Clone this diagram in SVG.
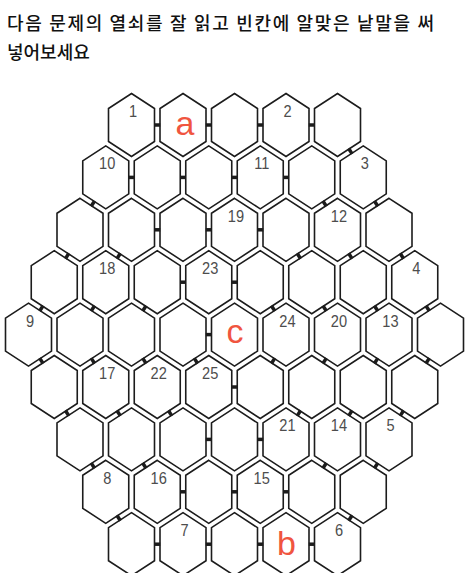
<svg xmlns="http://www.w3.org/2000/svg" width="465" height="573" viewBox="0 0 465 573">
<style>
.hx{fill:#fff;stroke:#1c1c1c;stroke-width:1.6;stroke-linejoin:miter}
.bar{stroke:#1c1c1c;stroke-width:3.5;fill:none}
.n{font-family:"Liberation Sans",Arial,sans-serif;font-size:17px;fill:#4d4d4d;text-anchor:middle}
.l{font-family:"Liberation Sans",Arial,sans-serif;font-size:34px;fill:#f0553f;text-anchor:middle}
.t{font-family:"Noto Sans CJK KR","Noto Sans",sans-serif;font-size:18px;font-weight:500;fill:#111}
</style>
<defs>
<path id="hx" d="M0,-31.5L23,-16.5L23,16.5L0,31.5L-23,16.5L-23,-16.5Z"/>
<path id="bh" d="M-3,0H3"/>
<path id="bdr" d="M-1.75,-2.68L1.75,2.68"/>
<path id="bdl" d="M1.75,-2.68L-1.75,2.68"/>
</defs>
<rect width="465" height="573" fill="#fff"/>
<g id="title">
<text class="t" x="7" y="30" textLength="427" lengthAdjust="spacing">다음 문제의 열쇠를 잘 읽고 빈칸에 알맞은 낱말을 써</text>
<text class="t" x="7" y="59">넣어보세요</text>
</g>
<g id="hexes">
<!-- row 1 -->
<g id="h1-1"><use href="#hx" class="hx" x="131.5" y="125"/><text class="n" transform="translate(133,117) scale(0.86,1)">1</text></g>
<g id="h1-2"><use href="#hx" class="hx" x="183" y="125"/><text class="l" x="185" y="135">a</text></g>
<g id="h1-3"><use href="#hx" class="hx" x="234.5" y="125"/></g>
<g id="h1-4"><use href="#hx" class="hx" x="286" y="125"/><text class="n" transform="translate(287.5,117) scale(0.86,1)">2</text></g>
<g id="h1-5"><use href="#hx" class="hx" x="337.5" y="125"/></g>
<!-- row 2 -->
<g id="h2-1"><use href="#hx" class="hx" x="105.75" y="177.4"/><text class="n" transform="translate(107.25,169.4) scale(0.86,1)">10</text></g>
<g id="h2-2"><use href="#hx" class="hx" x="157.25" y="177.4"/></g>
<g id="h2-3"><use href="#hx" class="hx" x="208.75" y="177.4"/></g>
<g id="h2-4"><use href="#hx" class="hx" x="260.25" y="177.4"/><text class="n" transform="translate(261.75,169.4) scale(0.86,1)">11</text></g>
<g id="h2-5"><use href="#hx" class="hx" x="311.75" y="177.4"/></g>
<g id="h2-6"><use href="#hx" class="hx" x="363.25" y="177.4"/><text class="n" transform="translate(364.75,169.4) scale(0.86,1)">3</text></g>
<!-- row 3 -->
<g id="h3-1"><use href="#hx" class="hx" x="80" y="229.8"/></g>
<g id="h3-2"><use href="#hx" class="hx" x="131.5" y="229.8"/></g>
<g id="h3-3"><use href="#hx" class="hx" x="183" y="229.8"/></g>
<g id="h3-4"><use href="#hx" class="hx" x="234.5" y="229.8"/><text class="n" transform="translate(236,221.8) scale(0.86,1)">19</text></g>
<g id="h3-5"><use href="#hx" class="hx" x="286" y="229.8"/></g>
<g id="h3-6"><use href="#hx" class="hx" x="337.5" y="229.8"/><text class="n" transform="translate(339,221.8) scale(0.86,1)">12</text></g>
<g id="h3-7"><use href="#hx" class="hx" x="389" y="229.8"/></g>
<!-- row 4 -->
<g id="h4-1"><use href="#hx" class="hx" x="54.25" y="282.2"/></g>
<g id="h4-2"><use href="#hx" class="hx" x="105.75" y="282.2"/><text class="n" transform="translate(107.25,274.2) scale(0.86,1)">18</text></g>
<g id="h4-3"><use href="#hx" class="hx" x="157.25" y="282.2"/></g>
<g id="h4-4"><use href="#hx" class="hx" x="208.75" y="282.2"/><text class="n" transform="translate(210.25,274.2) scale(0.86,1)">23</text></g>
<g id="h4-5"><use href="#hx" class="hx" x="260.25" y="282.2"/></g>
<g id="h4-6"><use href="#hx" class="hx" x="311.75" y="282.2"/></g>
<g id="h4-7"><use href="#hx" class="hx" x="363.25" y="282.2"/></g>
<g id="h4-8"><use href="#hx" class="hx" x="414.75" y="282.2"/><text class="n" transform="translate(416.25,274.2) scale(0.86,1)">4</text></g>
<!-- row 5 -->
<g id="h5-1"><use href="#hx" class="hx" x="28.5" y="334.6"/><text class="n" transform="translate(30,326.6) scale(0.86,1)">9</text></g>
<g id="h5-2"><use href="#hx" class="hx" x="80" y="334.6"/></g>
<g id="h5-3"><use href="#hx" class="hx" x="131.5" y="334.6"/></g>
<g id="h5-4"><use href="#hx" class="hx" x="183" y="334.6"/></g>
<g id="h5-5"><use href="#hx" class="hx" x="234.5" y="334.6"/><text class="l" x="235" y="343">c</text></g>
<g id="h5-6"><use href="#hx" class="hx" x="286" y="334.6"/><text class="n" transform="translate(287.5,326.6) scale(0.86,1)">24</text></g>
<g id="h5-7"><use href="#hx" class="hx" x="337.5" y="334.6"/><text class="n" transform="translate(339,326.6) scale(0.86,1)">20</text></g>
<g id="h5-8"><use href="#hx" class="hx" x="389" y="334.6"/><text class="n" transform="translate(390.5,326.6) scale(0.86,1)">13</text></g>
<g id="h5-9"><use href="#hx" class="hx" x="440.5" y="334.6"/></g>
<!-- row 6 -->
<g id="h6-1"><use href="#hx" class="hx" x="54.25" y="387"/></g>
<g id="h6-2"><use href="#hx" class="hx" x="105.75" y="387"/><text class="n" transform="translate(107.25,379) scale(0.86,1)">17</text></g>
<g id="h6-3"><use href="#hx" class="hx" x="157.25" y="387"/><text class="n" transform="translate(158.75,379) scale(0.86,1)">22</text></g>
<g id="h6-4"><use href="#hx" class="hx" x="208.75" y="387"/><text class="n" transform="translate(210.25,379) scale(0.86,1)">25</text></g>
<g id="h6-5"><use href="#hx" class="hx" x="260.25" y="387"/></g>
<g id="h6-6"><use href="#hx" class="hx" x="311.75" y="387"/></g>
<g id="h6-7"><use href="#hx" class="hx" x="363.25" y="387"/></g>
<g id="h6-8"><use href="#hx" class="hx" x="414.75" y="387"/></g>
<!-- row 7 -->
<g id="h7-1"><use href="#hx" class="hx" x="80" y="439.4"/></g>
<g id="h7-2"><use href="#hx" class="hx" x="131.5" y="439.4"/></g>
<g id="h7-3"><use href="#hx" class="hx" x="183" y="439.4"/></g>
<g id="h7-4"><use href="#hx" class="hx" x="234.5" y="439.4"/></g>
<g id="h7-5"><use href="#hx" class="hx" x="286" y="439.4"/><text class="n" transform="translate(287.5,431.4) scale(0.86,1)">21</text></g>
<g id="h7-6"><use href="#hx" class="hx" x="337.5" y="439.4"/><text class="n" transform="translate(339,431.4) scale(0.86,1)">14</text></g>
<g id="h7-7"><use href="#hx" class="hx" x="389" y="439.4"/><text class="n" transform="translate(390.5,431.4) scale(0.86,1)">5</text></g>
<!-- row 8 -->
<g id="h8-1"><use href="#hx" class="hx" x="105.75" y="491.8"/><text class="n" transform="translate(107.25,483.8) scale(0.86,1)">8</text></g>
<g id="h8-2"><use href="#hx" class="hx" x="157.25" y="491.8"/><text class="n" transform="translate(158.75,483.8) scale(0.86,1)">16</text></g>
<g id="h8-3"><use href="#hx" class="hx" x="208.75" y="491.8"/></g>
<g id="h8-4"><use href="#hx" class="hx" x="260.25" y="491.8"/><text class="n" transform="translate(261.75,483.8) scale(0.86,1)">15</text></g>
<g id="h8-5"><use href="#hx" class="hx" x="311.75" y="491.8"/></g>
<g id="h8-6"><use href="#hx" class="hx" x="363.25" y="491.8"/></g>
<!-- row 9 -->
<g id="h9-1"><use href="#hx" class="hx" x="131.5" y="544.2"/></g>
<g id="h9-2"><use href="#hx" class="hx" x="183" y="544.2"/><text class="n" transform="translate(184.5,536.2) scale(0.86,1)">7</text></g>
<g id="h9-3"><use href="#hx" class="hx" x="234.5" y="544.2"/></g>
<g id="h9-4"><use href="#hx" class="hx" x="286" y="544.2"/><text class="l" x="286.5" y="555">b</text></g>
<g id="h9-5"><use href="#hx" class="hx" x="337.5" y="544.2"/><text class="n" transform="translate(339,536.2) scale(0.86,1)">6</text></g>
</g>
<g id="connectors" class="bar">
<use href="#bh" x="157.25" y="125"/><use href="#bh" x="208.75" y="125"/><use href="#bh" x="260.25" y="125"/><use href="#bh" x="311.75" y="125"/>
<use href="#bh" x="131.5" y="177.4"/><use href="#bh" x="183" y="177.4"/><use href="#bh" x="234.5" y="177.4"/><use href="#bh" x="286" y="177.4"/>
<use href="#bh" x="157.25" y="229.8"/><use href="#bh" x="208.75" y="229.8"/><use href="#bh" x="260.25" y="229.8"/>
<use href="#bh" x="183" y="282.2"/><use href="#bh" x="234.5" y="282.2"/>
<use href="#bh" x="208.75" y="334.6"/>
<use href="#bh" x="234.5" y="387"/>
<use href="#bh" x="208.75" y="439.4"/><use href="#bh" x="260.25" y="439.4"/>
<use href="#bh" x="183" y="491.8"/><use href="#bh" x="234.5" y="491.8"/><use href="#bh" x="286" y="491.8"/>
<use href="#bh" x="157.25" y="544.2"/><use href="#bh" x="208.75" y="544.2"/><use href="#bh" x="260.25" y="544.2"/><use href="#bh" x="311.75" y="544.2"/>
<use href="#bdr" x="350.375" y="151.2"/>
<use href="#bdl" x="92.875" y="203.6"/><use href="#bdr" x="324.625" y="203.6"/><use href="#bdr" x="376.125" y="203.6"/>
<use href="#bdl" x="67.125" y="256"/><use href="#bdl" x="118.625" y="256"/><use href="#bdr" x="298.875" y="256"/><use href="#bdr" x="350.375" y="256"/><use href="#bdr" x="401.875" y="256"/>
<use href="#bdl" x="41.375" y="308.4"/><use href="#bdl" x="92.875" y="308.4"/><use href="#bdl" x="144.375" y="308.4"/><use href="#bdr" x="273.125" y="308.4"/><use href="#bdr" x="324.625" y="308.4"/><use href="#bdr" x="376.125" y="308.4"/><use href="#bdr" x="427.625" y="308.4"/>
<use href="#bdr" x="41.375" y="360.8"/><use href="#bdr" x="92.875" y="360.8"/><use href="#bdr" x="144.375" y="360.8"/><use href="#bdr" x="195.875" y="360.8"/><use href="#bdl" x="273.125" y="360.8"/><use href="#bdl" x="324.625" y="360.8"/><use href="#bdl" x="376.125" y="360.8"/><use href="#bdl" x="427.625" y="360.8"/>
<use href="#bdr" x="67.125" y="413.2"/><use href="#bdr" x="118.625" y="413.2"/><use href="#bdr" x="170.125" y="413.2"/><use href="#bdl" x="298.875" y="413.2"/><use href="#bdl" x="350.375" y="413.2"/><use href="#bdl" x="401.875" y="413.2"/>
<use href="#bdr" x="92.875" y="465.6"/><use href="#bdr" x="144.375" y="465.6"/><use href="#bdl" x="324.625" y="465.6"/><use href="#bdl" x="376.125" y="465.6"/>
<use href="#bdr" x="118.625" y="518"/><use href="#bdl" x="350.375" y="518"/>
</g>
</svg>
